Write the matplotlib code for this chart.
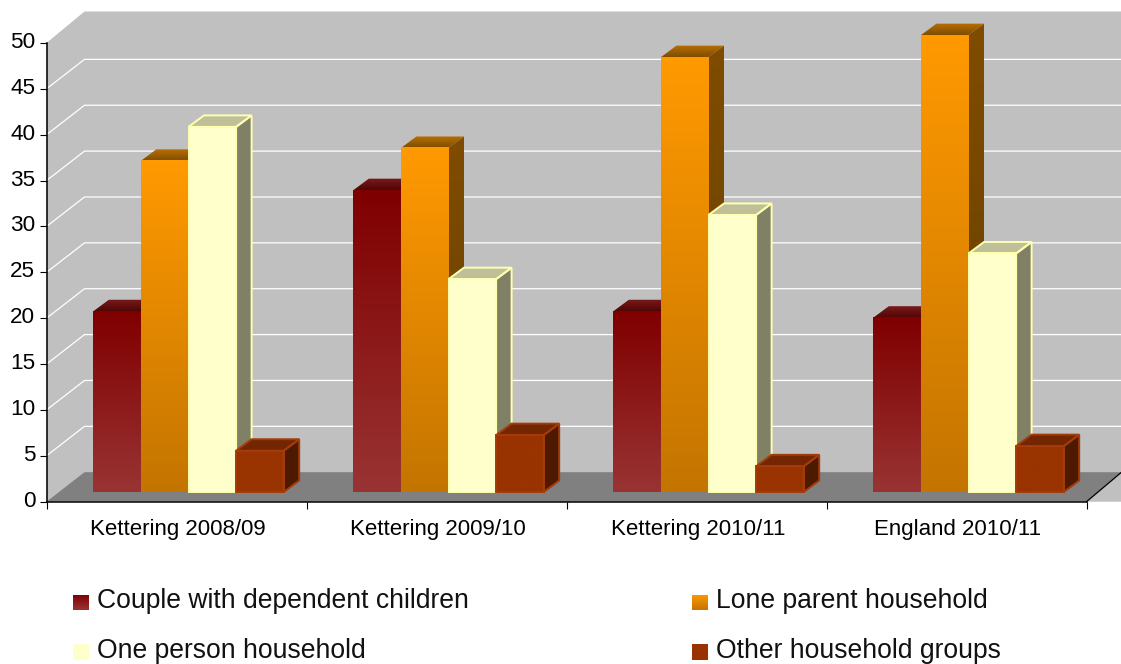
import numpy as np
import matplotlib
matplotlib.use("Agg")
import matplotlib.pyplot as plt
from matplotlib.colors import LinearSegmentedColormap
from matplotlib.patches import Polygon
from matplotlib.transforms import ScaledTranslation

plt.rcParams["font.family"] = ["Liberation Sans", "DejaVu Sans"]

categories = ["Kettering 2008/09", "Kettering 2009/10", "Kettering 2010/11", "England 2010/11"]
couple = [19.7, 32.9, 19.7, 19.0]
lone_parent = [36.1, 37.5, 47.4, 49.8]
one_person = [39.8, 23.2, 30.2, 26.0]
other = [4.5, 6.2, 2.8, 5.0]

series = [
    ("Couple with dependent children", couple),
    ("Lone parent household", lone_parent),
    ("One person household", one_person),
    ("Other household groups", other),
]
# front top, front bottom, side top, side bottom, lid front, lid back, edge
styles = [
    ("#800000", "#993333", "#5c0808", "#5c1c1c", "#4f0606", "#7a1a1a", None),
    ("#ff9900", "#c47500", "#7f4c00", "#664000", "#7f4c00", "#b87000", None),
    ("#ffffcc", "#ffffcc", "#808066", "#808066", "#bfbf99", "#bfbf99", "#ffffb0"),
    ("#993300", "#993300", "#4d1a00", "#4d1a00", "#732600", "#732600", "#a33c0a"),
]

W, H = 1121, 664
fig = plt.figure(figsize=(W / 100, H / 100), dpi=100)

# axes is the front plane of the 3D box
left, right, top, bottom = 46.5, 1086.5, 43, 501.7
ax = fig.add_axes([left / W, 1 - bottom / H, (right - left) / W, (bottom - top) / H])
ax.set_xlim(0, 4)
ax.set_ylim(0, 50)
ax.patch.set_visible(False)

px_x = 4 / (right - left)
px_y = 50 / (bottom - top)
wall_dx, wall_dy = 38 * px_x, 31.5 * px_y
floor_dy = 29.5 * px_y
base_dx, base_dy = 12 * px_x, 9.7 * px_y
bar_dx, bar_dy = 15.5 * px_x, 11.5 * px_y
bar_w = 47.6 * px_x
gap = (1 - 4 * bar_w) / 2
xmax = 4 + 35 * px_x


def gradient(c0, c1, extent, clip=None, z=3):
    cmap = LinearSegmentedColormap.from_list("g", [c1, c0])
    im = ax.imshow(np.linspace(1, 0, 64)[:, None], cmap=cmap, vmin=0, vmax=1, extent=extent,
                   aspect="auto", zorder=z, interpolation="bilinear")
    im.set_clip_box(fig.bbox)
    if clip is not None:
        patch = Polygon(clip, transform=ax.transData, fc="none", ec="none", clip_on=False)
        ax.add_patch(patch)
        im.set_clip_path(patch)
        im.set_clip_box(fig.bbox)
    return im


# walls and floor
ax.fill([0, wall_dx, xmax, xmax, 0], [50, 50 + wall_dy, 50 + wall_dy, 0, 0],
        color="#c0c0c0", lw=0, clip_on=False, zorder=0)
ax.fill([0, 4, xmax, wall_dx], [0, 0, floor_dy, floor_dy],
        color="#808080", lw=0, clip_on=False, zorder=1)
for v in range(5, 50, 5):
    ax.plot([0, wall_dx, xmax], [v, v + floor_dy, v + floor_dy], color="white", lw=0.9,
            clip_on=False, zorder=1)
ax.plot([4, xmax], [0, floor_dy], color="black", lw=0.9, clip_on=False, zorder=2)

# bars, drawn left to right so each front covers the side of the previous one
z = 3
for i in range(len(categories)):
    for j, (name, values) in enumerate(series):
        ctop, cbot, stop, sbot, lf, lb, edge = styles[j]
        x0 = i + gap + j * bar_w + base_dx
        x1 = x0 + bar_w
        y0 = base_dy
        y1 = values[i] + base_dy
        side = [(x1, y0), (x1 + bar_dx, y0 + bar_dy), (x1 + bar_dx, y1 + bar_dy), (x1, y1)]
        lid = [(x0, y1), (x1, y1), (x1 + bar_dx, y1 + bar_dy), (x0 + bar_dx, y1 + bar_dy)]
        gradient(stop, sbot, (x1, x1 + bar_dx, y0, y1 + bar_dy), clip=side, z=z)
        gradient(lb, lf, (x0, x1 + bar_dx, y1, y1 + bar_dy), clip=lid, z=z)
        gradient(ctop, cbot, (x0, x1, y0, y1), z=z + 0.5)
        if edge:
            for poly in (side, lid):
                ax.add_patch(Polygon(poly, fc="none", ec=edge, lw=1.4, zorder=z + 0.6, clip_on=False))
            ax.add_patch(Polygon([(x0, y0), (x1, y0), (x1, y1), (x0, y1)], fc="none", ec=edge, lw=1.4,
                                 zorder=z + 0.6, clip_on=False))
        z += 1

ax.set_xlim(0, 4)
ax.set_ylim(0, 50)

# axes furniture
for s in ("top", "right"):
    ax.spines[s].set_visible(False)
for s in ("left", "bottom"):
    ax.spines[s].set_linewidth(1.1)
    ax.spines[s].set_zorder(40)
ax.set_yticks(range(0, 51, 5))
ax.set_xticks(range(5))
ax.set_xticklabels([])
ax.set_xticks(np.arange(4) + 0.505, minor=True)
ax.set_xticklabels(categories, minor=True, fontsize=16)
ax.tick_params(axis="x", which="minor", length=0, pad=12.5)
ax.tick_params(axis="both", which="major", length=5, width=0.8, labelsize=16.2)
ax.tick_params(axis="y", pad=3)
shift_up = ScaledTranslation(0, 3 / 100, fig.dpi_scale_trans)
for label in ax.get_yticklabels():
    label.set_transform(label.get_transform() + shift_up)

# legend, laid out by hand to match the two column grid
legend_x = [73, 692]
legend_y = [602.5, 652]
for j, (name, values) in enumerate(series):
    col, row = j % 2, j // 2
    sw = fig.add_axes([legend_x[col] / W, 1 - (legend_y[row] + 8) / H, 16 / W, 16 / H])
    ctop, cbot = styles[j][:2]
    cmap = LinearSegmentedColormap.from_list("s", [cbot, ctop])
    sw.imshow(np.linspace(1, 0, 32)[:, None], cmap=cmap, vmin=0, vmax=1, aspect="auto")
    sw.axis("off")
    fig.text((legend_x[col] + 24) / W, 1 - (legend_y[row] - 1) / H, name, fontsize=19.1,
             va="center", ha="left", color="#111111")

fig.savefig("out.png", dpi=100, facecolor="white")
